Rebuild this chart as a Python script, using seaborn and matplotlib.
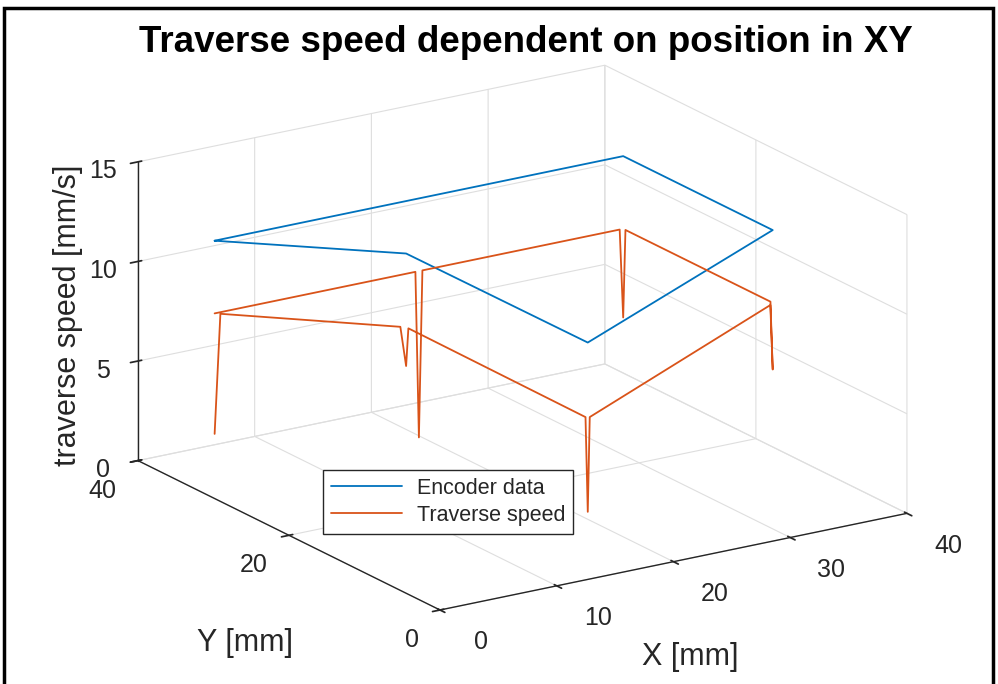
import numpy as np
import seaborn as sns
import matplotlib
matplotlib.use("Agg")
import matplotlib.pyplot as plt
from matplotlib.patches import Rectangle
from mpl_toolkits.mplot3d import proj3d

# ---------------- data ----------------
# Encoder data (XY path in mm, drawn at a constant height)
enc_x = [2.3, 12.3, 12.4, 37.3, 37.3, 2.3]
enc_y = [33.4, 23.5, -0.4, 13.6, 33.4, 33.4]
enc_z = [12.0, 12.0, 12.0, 12.0, 12.0, 12.0]

# Traverse speed along the same path (mm/s), dips at corners
spd_x = [2.3, 2.6, 12.0, 12.3, 12.3, 12.4, 12.4, 12.66, 37.0, 37.3, 37.3, 37.3, 37.3, 37.0, 20.1, 19.8, 19.5, 2.3]
spd_y = [33.4, 33.1, 23.8, 23.5, 23.2, -0.1, -0.4, -0.26, 13.45, 13.6, 13.9, 33.1, 33.4, 33.4, 33.4, 33.4, 33.4, 33.4]
spd_z = [2.3, 8.35, 8.3, 6.35, 8.3, 8.2, 3.5, 8.2, 8.3, 5.0, 8.35, 8.35, 3.9, 8.35, 8.35, 0.0, 8.35, 8.35]

series_names = ["Encoder data", "Traverse speed"]
x_ticks = [0, 10, 20, 30, 40]
y_ticks = [0, 20, 40]
z_ticks = [0, 5, 10, 15]

# ---------------- style ----------------
sns.set_theme(style="white")
plt.rcParams["font.family"] = ["Liberation Sans", "DejaVu Sans"]
plt.rcParams["grid.color"] = "#dedede"
plt.rcParams["grid.linewidth"] = 0.8
ink = "#262626"
c_blue = "#0072BD"
c_orange = "#D95319"

W, H = 998, 684
fig = plt.figure(figsize=(W / 100, H / 100), dpi=100)
fig.patch.set_facecolor("white")
ax = fig.add_axes([-0.1, -0.1, 1.2, 1.2], projection="3d")
ax.set_proj_type("ortho")
ax.view_init(elev=18.66, azim=-122.9)
ASPECT = (1, 1, 0.567)
ax.set_box_aspect(ASPECT, zoom=1.0)
ax.set_xlim(0, 40)
ax.set_ylim(0, 40)
ax.set_zlim(0, 15)
ax.set_facecolor("none")

ax.plot(enc_x, enc_y, enc_z, color=c_blue, lw=1.3, label=series_names[0])
ax.plot(spd_x, spd_y, spd_z, color=c_orange, lw=1.3, label=series_names[1])

ax.set_xticks(x_ticks)
ax.set_yticks(y_ticks)
ax.set_zticks(z_ticks)
for a in (ax.xaxis, ax.yaxis, ax.zaxis):
    a.pane.fill = False
    a.pane.set_edgecolor("none")
    a.line.set_color(ink)
    a.line.set_linewidth(1.0)
    a._axinfo["tick"]["color"] = ink
    a._axinfo["grid"]["color"] = "#dedede"
    a._axinfo["grid"]["linewidth"] = 0.8
ax.tick_params(axis="both", labelsize=18, colors=ink)
ax.zaxis.set_tick_params(labelsize=18, colors=ink, pad=6)
ax.yaxis.set_tick_params(pad=6)
ax.grid(True)

# X tick labels: push them away from the axis only across the Y direction (as in the reference)
if hasattr(ax.xaxis, "_axmask"):
    ax.xaxis._axmask = lambda: [False, True, False]
    ax.xaxis.set_tick_params(pad=34)

# ---- fit the projected box onto the reference layout ----
def proj_disp(pts):
    fig.canvas.draw()
    M = ax.get_proj()
    xs, ys, _ = proj3d.proj_transform(pts[:, 0], pts[:, 1], pts[:, 2], M)
    return ax.transData.transform(np.column_stack([xs, ys]))

corner = np.array([[0, 0, 0], [40, 0, 0], [0, 40, 0]], float)
tgt_O = np.array([440.0, H - 610.0])
tgt_span = 907.0 - 138.0
zoom = 1.0
for _ in range(3):
    d = proj_disp(corner)
    span = d[1, 0] - d[2, 0]
    zoom *= tgt_span / span
    ax.set_box_aspect(ASPECT, zoom=zoom)
    d = proj_disp(corner)
    shift = tgt_O - d[0]
    pos = ax.get_position(original=True)
    ax.set_position([pos.x0 + shift[0] / W, pos.y0 + shift[1] / H, pos.width, pos.height])

fig.canvas.draw()
plt.setp(ax.get_yticklabels(), ha="right")

# axis titles
lab_kw = dict(fontsize=22, color=ink, ha="center", va="center")
fig.text(690 / W, 1 - 657 / H, "X [mm]", **lab_kw)
fig.text(245 / W, 1 - 643 / H, "Y [mm]", **lab_kw)
fig.text(68 / W, 1 - 315 / H, "traverse speed [mm/s]", rotation=90, **lab_kw)

fig.text(526 / W, 1 - 43 / H, "Traverse speed dependent on position in XY", fontsize=26.5,
         fontweight="bold", color="black", ha="center", va="center")

leg = fig.legend(loc="upper left", bbox_to_anchor=(323 / W, 1 - 470 / H), borderaxespad=0,
                 fontsize=15.5, frameon=True, fancybox=False, framealpha=1, edgecolor=ink,
                 handlelength=3.3, borderpad=0.35, labelspacing=0.3, handletextpad=0.7)
leg.get_frame().set_linewidth(1.0)

fig.add_artist(Rectangle((4 / W, -0.05), (993 - 4) / W, 1.05 - 8 / H, transform=fig.transFigure,
                         fill=False, lw=2.5, ec="black"))

fig.savefig("out.png", dpi=100)
